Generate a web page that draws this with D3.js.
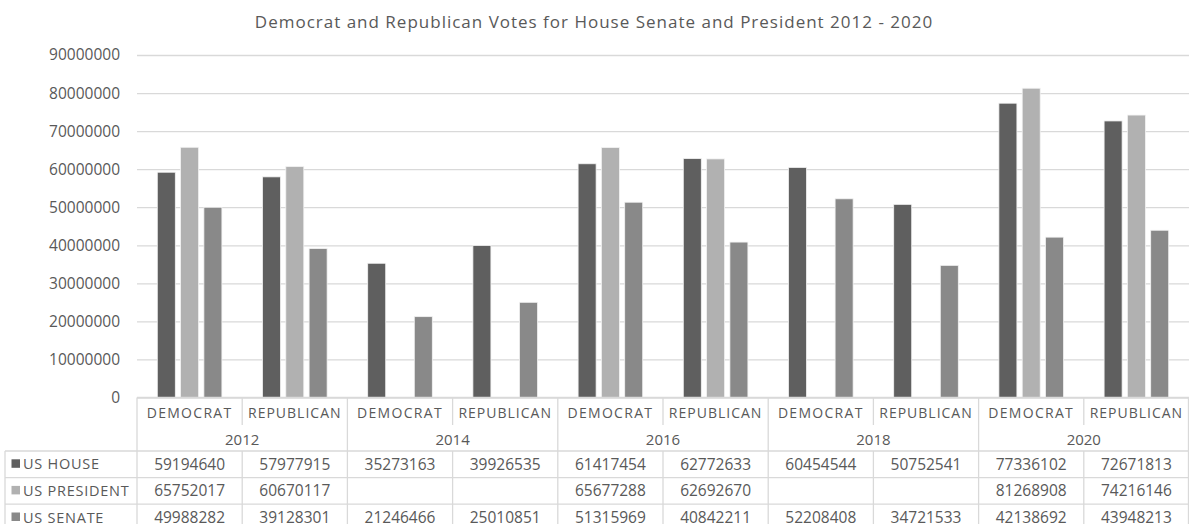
<!DOCTYPE html>
<html>
<head>
<meta charset="utf-8">
<script src="https://cdn.jsdelivr.net/npm/d3@7"></script>
<style>
  body { margin: 0; background: #fff; }
  text { font-family: "Open Sans", sans-serif; fill: #595959; }
</style>
</head>
<body>
<svg id="chart" width="1189" height="524"></svg>
<script>
// chart data
const years = ["2012", "2014", "2016", "2018", "2020"];
const parties = ["DEMOCRAT", "REPUBLICAN"];
const seriesNames = ["US HOUSE", "US PRESIDENT", "US SENATE"];
const houseVotes = [59194640, 57977915, 35273163, 39926535, 61417454, 62772633, 60454544, 50752541, 77336102, 72671813];
const presidentVotes = [65752017, 60670117, null, null, 65677288, 62692670, null, null, 81268908, 74216146];
const senateVotes = [49988282, 39128301, 21246466, 25010851, 51315969, 40842211, 52208408, 34721533, 42138692, 43948213];
const yTickValues = [0, 10000000, 20000000, 30000000, 40000000, 50000000, 60000000, 70000000, 80000000, 90000000];
const titleText = "Democrat and Republican Votes for House Senate and President 2012 - 2020";

const colors = { "US HOUSE": "#5f5f5f", "US PRESIDENT": "#b1b1b1", "US SENATE": "#898989" };
const gridColor = "#d9d9d9";

// columns = year x party
const columns = [];
years.forEach(y => parties.forEach(p => columns.push({ year: y, party: p, key: y + "|" + p })));
const seriesValues = [houseVotes, presidentVotes, senateVotes];

const plotLeft = 137, plotRight = 1189;
const plotTop = 55, plotBottom = 397.5;

const svg = d3.select("#chart");

const x0 = d3.scaleBand().domain(columns.map(c => c.key)).range([plotLeft, plotRight]).padding(0);
const x1 = d3.scaleBand().domain(seriesNames).range([0, x0.bandwidth()])
  .paddingInner(0.227).paddingOuter(0.871);
const y = d3.scaleLinear().domain([0, 90000000]).range([plotBottom, plotTop]);

// title
svg.append("text")
  .attr("x", 594).attr("y", 21)
  .attr("text-anchor", "middle").attr("dominant-baseline", "central")
  .style("font-size", "17px").style("letter-spacing", "1px")
  .text(titleText);

// gridlines
const grid = svg.append("g").attr("transform", `translate(${plotLeft},0)`)
  .call(d3.axisLeft(y).tickValues(yTickValues).tickSize(-(plotRight - plotLeft)).tickFormat(""));
grid.select(".domain").remove();
grid.selectAll("line").attr("stroke", gridColor).attr("stroke-width", 1.3);

// y axis labels
const yAxis = svg.append("g").attr("transform", `translate(120,0)`)
  .call(d3.axisLeft(y).tickValues(yTickValues).tickSize(0).tickPadding(0).tickFormat(d => String(d)));
yAxis.select(".domain").remove();
yAxis.selectAll("text").style("font-size", "15.5px").attr("fill", "#595959");

// bars
const groups = svg.append("g").selectAll("g")
  .data(columns)
  .join("g")
  .attr("transform", d => `translate(${x0(d.key)},0)`);

groups.selectAll("rect")
  .data((d, i) => seriesNames.map((s, k) => ({ series: s, value: seriesValues[k][i] })).filter(e => e.value != null))
  .join("rect")
  .attr("x", d => x1(d.series))
  .attr("y", d => y(d.value))
  .attr("width", x1.bandwidth())
  .attr("height", d => y(0) - y(d.value))
  .attr("fill", d => colors[d.series])
  .attr("stroke", "#f2f2f2")
  .attr("stroke-width", 0.8);

// data table
const rowTop = 451, rowH = 26.6, headerTop = plotBottom, catRowBottom = 425;
const table = svg.append("g");
const line = (xa, ya, xb, yb) => table.append("line")
  .attr("x1", xa).attr("y1", ya).attr("x2", xb).attr("y2", yb)
  .attr("stroke", gridColor).attr("stroke-width", 1.3);

line(plotLeft, headerTop, plotRight, headerTop);
for (let r = 0; r <= 3; r++) line(5, rowTop + r * rowH, plotRight, rowTop + r * rowH);
line(5, rowTop, 5, 524);
columns.forEach((c, i) => {
  const xx = x0(c.key);
  if (i % 2 === 0) {
    line(xx, headerTop, xx, 524);
  } else {
    line(xx, headerTop, xx, catRowBottom);
    line(xx, rowTop, xx, 524);
  }
});
line(plotRight - 0.5, headerTop, plotRight - 0.5, 524);

// category labels
table.selectAll("text.cat").data(columns).join("text")
  .attr("class", "cat")
  .attr("x", d => x0(d.key) + x0.bandwidth() / 2)
  .attr("y", 412)
  .attr("text-anchor", "middle").attr("dominant-baseline", "central")
  .style("font-size", "14px").style("letter-spacing", d => d.party === "DEMOCRAT" ? "1.3px" : "1px")
  .text(d => d.party);

// year labels
table.selectAll("text.year").data(years).join("text")
  .attr("class", "year")
  .attr("x", (d, i) => x0(columns[i * 2].key) + x0.bandwidth())
  .attr("y", 439)
  .attr("text-anchor", "middle").attr("dominant-baseline", "central")
  .style("font-size", "15px")
  .text(d => d);

// rows
seriesNames.forEach((s, k) => {
  const cy = rowTop + k * rowH + rowH / 2 - 0.5;
  table.append("rect")
    .attr("x", 11.5).attr("y", cy - 4.5).attr("width", 8.5).attr("height", 8.5)
    .attr("fill", colors[s]);
  table.append("text")
    .attr("x", 23).attr("y", cy)
    .attr("dominant-baseline", "central")
    .style("font-size", "14.5px").style("letter-spacing", "0.75px")
    .text(s);
  columns.forEach((c, i) => {
    const v = seriesValues[k][i];
    if (v == null) return;
    table.append("text")
      .attr("x", x0(c.key) + x0.bandwidth() / 2)
      .attr("y", cy)
      .attr("text-anchor", "middle").attr("dominant-baseline", "central")
      .style("font-size", "15.5px")
      .text(v);
  });
});
</script>
</body>
</html>
